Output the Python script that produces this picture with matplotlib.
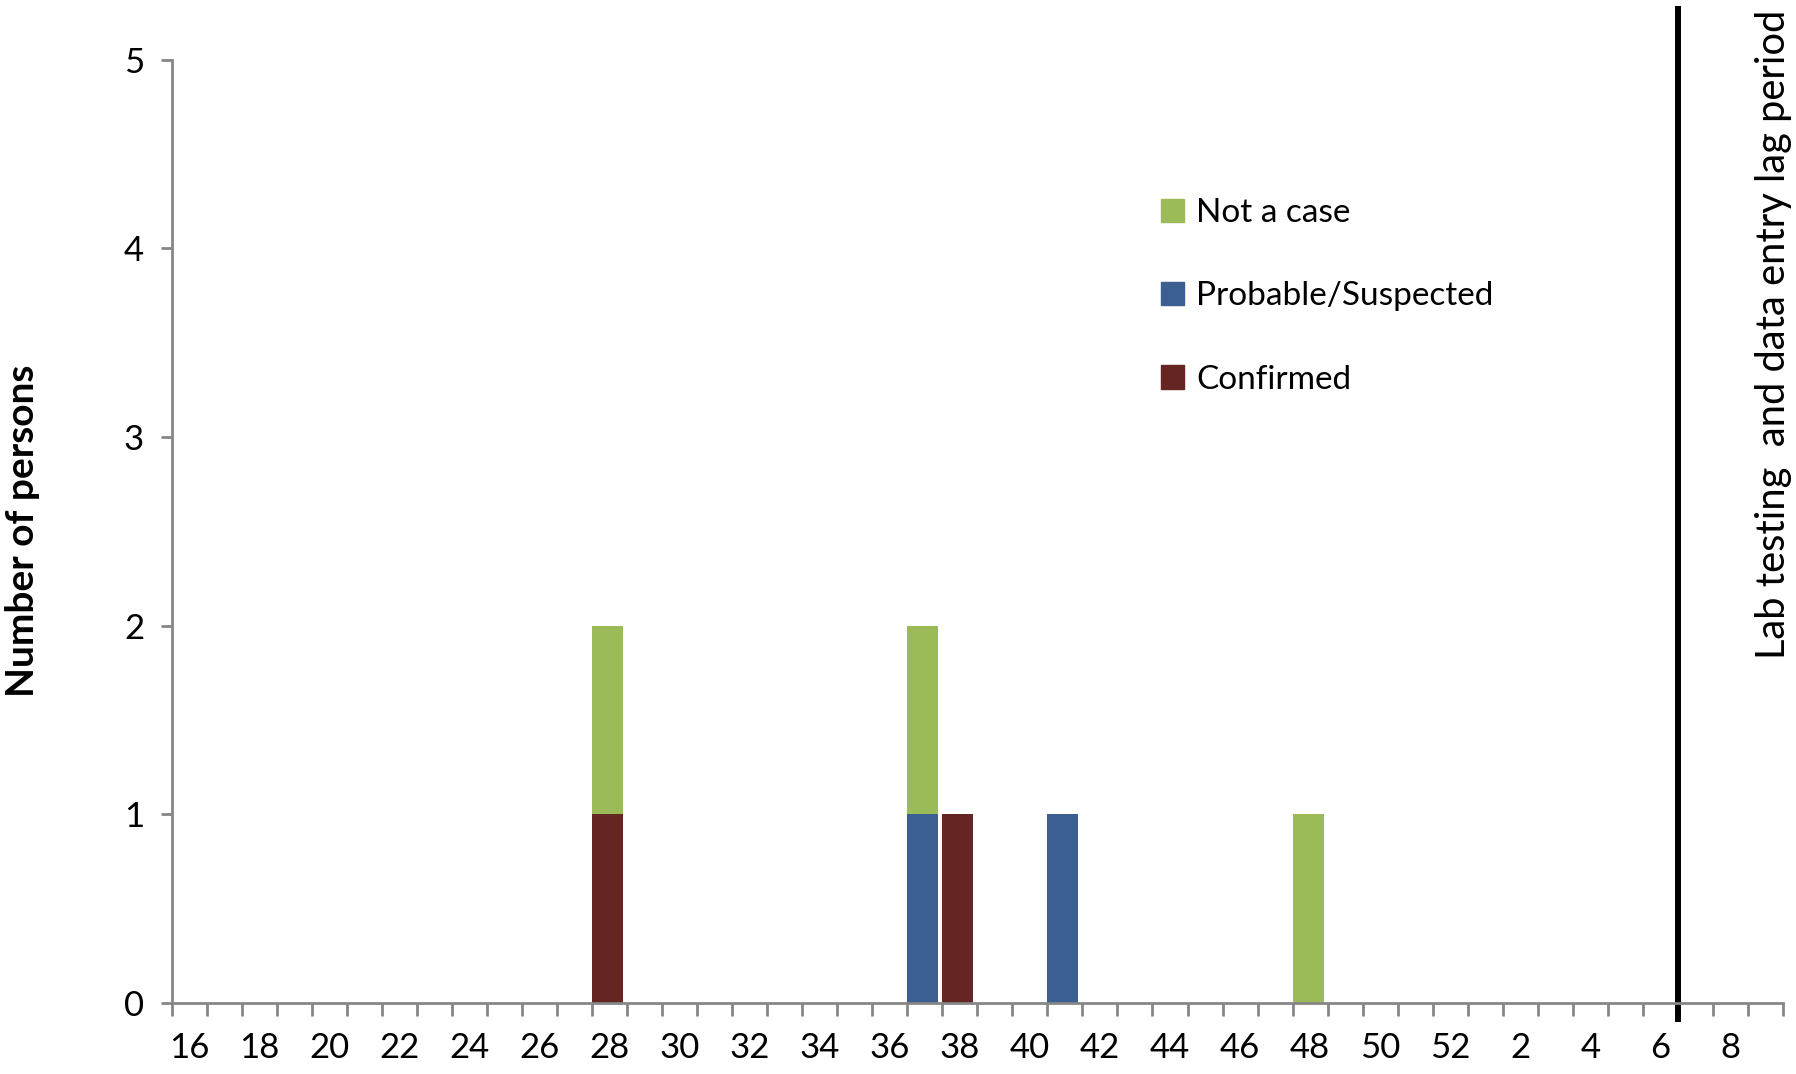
import matplotlib.pyplot as plt
from matplotlib.patches import Patch
import numpy as np

plt.rcParams['font.family'] = ['Lato', 'DejaVu Sans']

# ============ data ============
# epi weeks: 16..52, then 1..9 of the next year
weeks = [16, 17, 18, 19, 20, 21, 22, 23, 24, 25, 26, 27, 28, 29, 30, 31, 32, 33, 34,
         35, 36, 37, 38, 39, 40, 41, 42, 43, 44, 45, 46, 47, 48, 49, 50, 51, 52,
         1, 2, 3, 4, 5, 6, 7, 8, 9]

confirmed_weeks = [28, 38]
confirmed_counts = [1, 1]
probable_weeks = [37, 41]
probable_counts = [1, 1]
notcase_weeks = [28, 37, 48]
notcase_counts = [1, 1, 1]

lag_after_week = 6  # vertical line after this week (second year)

GREEN = '#9BBB59'
BLUE = '#3B5F91'
RED = '#652523'
AXIS_GRAY = '#868686'


def to_series(wk, cnt):
    arr = np.zeros(len(weeks))
    for w, c in zip(wk, cnt):
        # weeks 16..52 first year, small numbers second year
        idx = weeks.index(w) if w >= 16 else weeks.index(w, 37)
        arr[idx] = c
    return arr


confirmed = to_series(confirmed_weeks, confirmed_counts)
probable = to_series(probable_weeks, probable_counts)
notcase = to_series(notcase_weeks, notcase_counts)

x = np.arange(len(weeks))

# ============ plot ============
fig = plt.figure(figsize=(17.96, 10.74), dpi=100)
ax = fig.add_axes([0.0957, 0.0661, 0.8970, 0.8784])

bw = 0.885
ax.bar(x - 0.5, confirmed, width=bw, align='edge', color=RED)
ax.bar(x - 0.5, probable, width=bw, align='edge', bottom=confirmed, color=BLUE)
ax.bar(x - 0.5, notcase, width=bw, align='edge', bottom=confirmed + probable, color=GREEN)

ax.set_xlim(-0.5, len(weeks) - 0.5)
ax.set_ylim(0, 5)

for s in ['top', 'right']:
    ax.spines[s].set_visible(False)
for s in ['left', 'bottom']:
    ax.spines[s].set_color(AXIS_GRAY)
    ax.spines[s].set_linewidth(2)

ax.set_yticks(range(0, 6))
ax.tick_params(axis='y', length=8, width=2, color=AXIS_GRAY, labelsize=25, pad=12)

ax.set_xticks(x[::2])
ax.set_xticklabels([str(w) for w in weeks[::2]])
ax.set_xticks(np.arange(len(weeks) + 1) - 0.5, minor=True)
ax.tick_params(axis='x', which='major', length=0, labelsize=25, pad=21)
ax.tick_params(axis='x', which='minor', length=9, width=2, color=AXIS_GRAY)

# lag period line
lag_idx = weeks.index(lag_after_week, 37)
ax.axvline(lag_idx + 0.5, ymin=-0.017, ymax=1.0536, color='black', lw=4.3, clip_on=False)

ax.set_ylabel('Number of persons', fontsize=28, fontweight='bold', labelpad=0)
ax.yaxis.set_label_coords(-0.082, 0.5)

fig.text(1774 / 1796, 1 - 10 / 1074, 'Lab testing  and data entry lag period',
         rotation=90, va='top', ha='center', fontsize=28.7)

handles = [Patch(color=GREEN, label='Not a case'),
           Patch(color=BLUE, label='Probable/Suspected'),
           Patch(color=RED, label='Confirmed')]
fig.legend(handles=handles, loc='upper left', bbox_to_anchor=(1161 / 1796, 1 - 198 / 1074),
           frameon=False, fontsize=24, handlelength=0.7, handleheight=0.7,
           handletextpad=0.35, labelspacing=1.6, borderpad=0, borderaxespad=0)

fig.savefig('out.png', dpi=100)
